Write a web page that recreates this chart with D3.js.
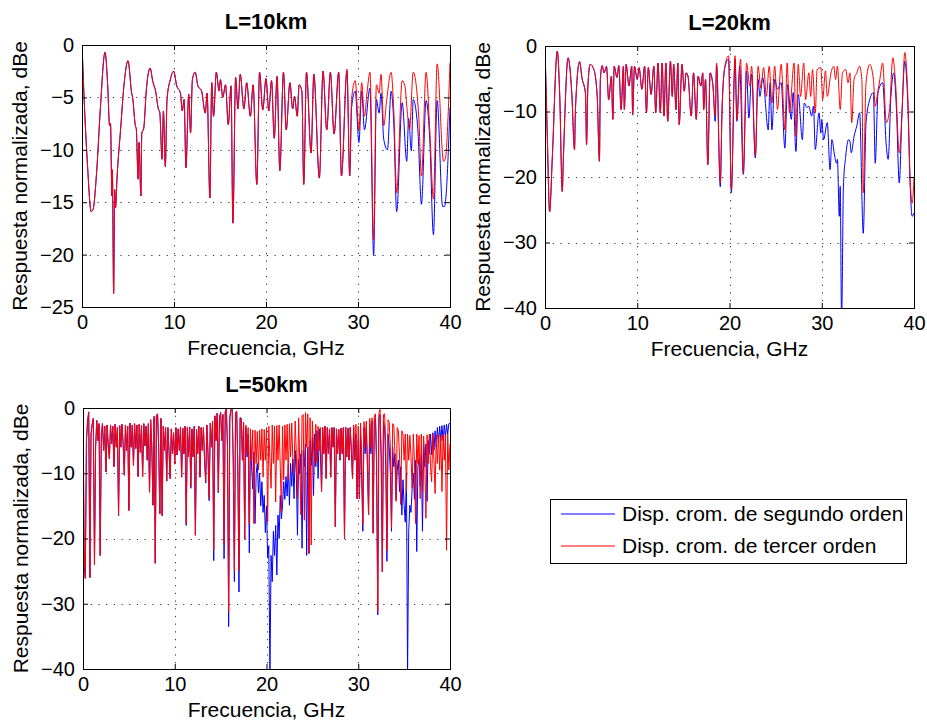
<!DOCTYPE html>
<html>
<head>
<meta charset="utf-8">
<script src="https://cdn.jsdelivr.net/npm/d3@7"></script>
<style>
  body { margin: 0; background: #fff; }
  svg text { font-family: "Liberation Sans", Arial, Helvetica, sans-serif; fill: #000; }
  .axis path { display: none; }
  .axis line { stroke: #000; }
  .grid line { stroke: #333; stroke-dasharray: 1.2, 6.5; }
</style>
</head>
<body>
<div id="chart"></div>
<script>
// ---- data ----
const titles = ['L=10km', 'L=20km', 'L=50km'];
const seriesNames = ['Disp. crom. de segundo orden', 'Disp. crom. de tercer orden'];
const freqTicks = [0, 10, 20, 30, 40];
const dbTicks10 = [0, -5, -10, -15, -20, -25];
const dbTicks20 = [0, -10, -20, -30, -40];

// L=10km: [GHz, dB] turning points; both orders coincide up to ~28 GHz
const l10Shared = [
  [0, 0], [0.3, -6.5], [0.6, -11.5], [1.0, -15.9], [1.2, -15.7], [1.6, -12], [2.0, -6], [2.5, -0.7],
  [2.8, -4], [3.0, -7.7], [3.1, -7.5], [3.25, -14.4], [3.3, -11.9], [3.44, -23.7], [3.55, -13.8],
  [3.65, -15.5], [3.8, -12.8], [4.2, -8], [4.6, -3.5], [5.0, -1.5], [5.4, -4.6], [5.5, -5],
  [5.8, -7.7], [5.9, -8], [6.1, -12.8], [6.2, -9.3], [6.4, -14.4], [6.5, -8.4], [6.7, -8],
  [7.0, -4.2], [7.4, -2.2], [7.7, -3.5], [8.0, -4.4], [8.3, -6.1], [8.45, -6.4], [8.7, -10.9],
  [8.85, -6.3], [9.06, -11.6], [9.24, -5.2], [9.6, -3.3], [9.96, -2.5], [10.3, -3.9], [10.7, -4.6],
  [10.9, -6.3], [11.1, -5.2], [11.3, -11.7], [11.6, -4.7], [11.8, -8.4], [12.0, -3.3], [12.3, -2.6],
  [12.6, -3.9], [13.0, -4.4], [13.4, -6.5], [13.6, -4.6], [13.9, -14.6], [14.1, -3.6], [14.3, -6.8],
  [14.6, -2.6], [14.9, -4.4], [15.05, -3.3], [15.3, -5.0], [15.6, -3.8], [15.9, -7.6], [16.2, -3.9],
  [16.4, -17.0], [16.7, -3.1], [16.95, -6.1], [17.2, -2.8], [17.6, -6.1], [17.9, -3.6], [18.3, -6.8],
  [18.6, -3.8], [19.0, -13.3], [19.3, -2.6], [19.65, -6.2], [20.0, -3.2], [20.3, -6.3], [20.6, -3.4],
  [20.9, -8.9], [21.2, -3.0], [21.5, -12.0], [21.9, -2.6], [22.2, -8.1], [22.6, -3.6], [22.9, -6.1],
  [23.1, -4.9], [23.4, -6.8], [23.6, -3.8], [23.9, -4.4], [24.1, -13.3], [24.4, -2.6], [24.9, -10.3],
  [25.2, -2.8], [25.8, -12.7], [26.2, -2.5], [26.6, -8.1], [27.0, -2.6], [27.4, -8.5], [27.9, -2.6],
  [28.2, -12.5]
];
const l10SegTail = [
  [28.8, -2.5], [29.1, -12.5], [29.3, -6], [29.7, -4.4], [30.1, -9.3], [30.4, -4.4], [30.7, -8.1],
  [31.3, -4.1], [31.7, -20.1], [32.0, -5.2], [32.3, -6.5], [32.5, -4.6], [32.8, -9.0], [33.2, -10.0],
  [33.6, -4.4], [33.9, -7.7], [34.2, -15.9], [34.8, -5.5], [35.3, -11.1], [35.5, -7], [35.8, -10.1],
  [36.0, -5.2], [36.5, -8], [36.9, -15.2], [37.4, -5.3], [37.8, -9], [38.2, -18.1], [38.6, -5.3],
  [39.2, -15.4], [39.4, -15.4], [40, -6.0]
];
const l10TerTail = [
  [28.8, -2.3], [29.1, -12.5], [29.3, -5.2], [29.7, -3.4], [30.1, -8.1], [30.4, -3.6], [30.7, -6.8],
  [31.0, -4.4], [31.3, -2.6], [31.7, -18.6], [32.0, -3.8], [32.3, -4.6], [32.5, -2.8], [32.8, -7.7],
  [33.1, -5.4], [33.6, -2.6], [33.9, -6.5], [34.2, -14.1], [34.8, -3.4], [35.1, -3.9], [35.3, -5.8],
  [35.6, -8.1], [36.0, -2.6], [36.6, -6.8], [36.9, -12.5], [37.4, -2.6], [37.8, -8.1], [38.2, -14.7],
  [38.6, -1.8], [39.3, -11.1], [39.5, -10.8], [40, -1.7]
];

// L=20km: [GHz, dB] turning points; both orders coincide up to ~18 GHz
const l20Shared = [
  [0, 0], [0.25, -13.8], [0.5, -25.3], [0.8, -16.8], [1.33, -0.8], [1.6, -7.7], [1.87, -22.2],
  [2.0, -16.8], [2.5, -1.8], [2.9, -7.1], [3.2, -15.8], [3.3, -9.7], [3.75, -2.4], [4.0, -4.8],
  [4.4, -7.4], [4.5, -15.1], [4.65, -6.1], [4.9, -2.8], [5.3, -3.6], [5.66, -7.7], [5.9, -17.6],
  [6.0, -5.1], [6.2, -3.0], [6.4, -4.1], [6.67, -3.1], [6.9, -8.2], [7.2, -4.6], [7.35, -11.2],
  [7.5, -3.1], [7.8, -4.8], [8.0, -3.0], [8.25, -9.7], [8.5, -3.1], [8.6, -9.7], [8.8, -2.8],
  [9.1, -6.1], [9.4, -3.1], [9.5, -10.5], [9.7, -3.1], [10.0, -5.1], [10.2, -3.3], [10.5, -6.6],
  [10.8, -3.1], [11.0, -10.2], [11.2, -3.3], [11.5, -7.4], [11.8, -3.1], [12.0, -10.2], [12.25, -2.6],
  [12.5, -10.2], [12.7, -2.6], [12.9, -10.7], [13.1, -2.6], [13.3, -11.5], [13.6, -2.3], [13.8, -7.7],
  [13.95, -2.8], [14.2, -9.7], [14.4, -2.6], [14.55, -12.0], [14.85, -2.8], [15.1, -6.9], [15.3, -4.1],
  [15.5, -4.6], [15.85, -10.7], [16.1, -4.1], [16.4, -11.2], [16.6, -4.6], [16.9, -6.1], [17.1, -4.1],
  [17.2, -9.7], [17.4, -5.1], [17.65, -18.1], [17.9, -4.1], [18.2, -6]
];
const l20SegTail = [
  [18.45, -11.5], [18.6, -3], [19.0, -21.5], [19.2, -9.5], [19.5, -3.3], [19.9, -2.0], [20.2, -22.4],
  [20.6, -2.0], [20.8, -11.5], [21.1, -3.1], [21.5, -19.6], [21.85, -3.8], [22.1, -11.0], [22.4, -4.3],
  [22.8, -17.1], [23.1, -5.1], [23.3, -7.7], [23.6, -4.8], [24.2, -12.8], [24.4, -5.6], [24.6, -12.8],
  [24.9, -5.1], [25.2, -6.6], [25.6, -5.6], [26.0, -15.6], [26.3, -5.9], [26.7, -11.2], [26.9, -7.1],
  [27.2, -16.1], [27.45, -7.4], [27.9, -14.3], [28.1, -8.7], [28.4, -9.4], [28.6, -9.2], [28.9, -10.7],
  [29.1, -9.2], [29.3, -15.8], [29.7, -10.2], [29.9, -13.3], [30.0, -11.2], [30.2, -14.3], [30.6, -11.7],
  [30.9, -18.9], [31.1, -14.3], [31.4, -16.8], [31.6, -17.9], [31.7, -17.3], [31.9, -26.0], [32.0, -21.4],
  [32.15, -42], [32.35, -21.4], [32.6, -16.8], [32.9, -14.3], [33.05, -14.5], [33.2, -16.3], [33.5, -13.8],
  [33.8, -12.2], [34.1, -10.2], [34.5, -28.6], [34.8, -11.7], [35.2, -8.2], [35.6, -7.1], [35.8, -17.9],
  [36.1, -7.1], [36.6, -5.6], [37.0, -15.3], [37.2, -17.3], [37.5, -7.7], [37.8, -4.1], [38.1, -9.7],
  [38.4, -20.9], [38.7, -10.2], [39.0, -2.3], [39.3, -7.7], [39.6, -21.9], [39.8, -26.0], [40, -25.5]
];
const l20TerTail = [
  [18.45, -10.7], [18.6, -2.6], [19.0, -20.9], [19.2, -9.2], [19.5, -3.1], [19.9, -1.5], [20.2, -21.9],
  [20.6, -1.5], [20.8, -11.2], [21.2, -2.0], [21.5, -19.4], [21.85, -2.6], [22.2, -6.1], [22.4, -3.1],
  [22.8, -16.8], [23.1, -3.1], [23.4, -6.4], [23.7, -3.3], [24.0, -7.7], [24.3, -3.1], [24.6, -8.7],
  [24.9, -3.1], [25.2, -9.7], [25.6, -2.8], [26.0, -12.8], [26.25, -2.6], [26.5, -10.2], [27.0, -2.6],
  [27.2, -13.8], [27.45, -2.8], [27.7, -7.7], [28.05, -2.6], [28.25, -8.2], [28.6, -4.1], [28.8, -7.7],
  [29.0, -3.6], [29.3, -10.2], [29.5, -3.6], [29.9, -3.3], [30.1, -8.2], [30.4, -3.8], [30.6, -7.7],
  [31.0, -4.1], [31.3, -3.1], [31.5, -5.1], [31.7, -3.1], [32.0, -9.7], [32.25, -4.1], [32.6, -3.6],
  [32.85, -5.6], [33.05, -4.1], [33.25, -11.7], [33.5, -5.1], [33.8, -4.1], [34.1, -3.1], [34.35, -5.1],
  [34.5, -22.4], [34.8, -5.6], [35.2, -2.8], [35.6, -5.1], [35.8, -9.2], [36.0, -7.7], [36.3, -5.1],
  [36.6, -2.6], [37.0, -11.7], [37.35, -9.7], [37.7, -1.8], [38.0, -5.6], [38.4, -16.3], [38.7, -10.2],
  [39.0, -1.0], [39.3, -6.6], [39.6, -20.9], [39.8, -24.0], [40, -20]
];

// L=50km: dB sampled every 0.125 GHz (one row per GHz)
const l50Step = 0.125;
const l50Seg = [
  0, -24, -26.1, -5, -2, -0.6, -26, -4,
  -2.5, -1.6, -24, -6, -1.9, -5, -2.4, -22.6,
  -4, -2.4, -6.5, -2.8, -9.8, -2.6, -5.8, -7.8,
  -2.6, -5.5, -2.8, -9, -2.5, -6, -3, -16.5,
  -2.7, -6, -2.5, -5.5, -10.3, -2.6, -6.5, -2.8,
  -15.7, -2.3, -6, -2.6, -8.8, -2.4, -6.2, -2.6,
  -10.5, -2.5, -6.8, -2.7, -10.5, -2.4, -5.8, -2.8,
  -8, -2.4, -12.9, -1.8, -6, -14.9, -1.3, -23.8,
  -1.2, -0.9, -6, -16.2, -1.6, -16.5, -2.8, -6.5,
  -3, -11.2, -3, -6.5, -10.8, -3.2, -7, -3.8,
  -8.6, -3, -7.2, -3.2, -6.5, -2.9, -10.6, -3.1,
  -7, -2.8, -18, -3, -7.5, -2.9, -12.3, -3.2,
  -7.5, -2.8, -19.5, -3.3, -7, -2.8, -10.6, -3,
  -6.5, -3, -8, -11.5, -2.6, -7, -14.2, -2.3,
  -6, -2, -23.4, -1.2, -5, -0.8, -13, -1.5,
  -0.7, -5, -1, -23.1, -0.6, -0.1, -6, -33.5,
  -1.5, -0.2, 0, -8, -26.6, -0.8, -0.5, -9,
  -28.2, -1.5, -1.6, -8, -2.2, -20.1, -3, -7.5,
  -4, -22.2, -5, -9, -12.4, -6.7, -17.7, -10,
  -8.5, -13, -10, -15, -11.3, -16, -13.4, -19.1,
  -15, -23, -21.1, -41, -22.6, -26.6, -18.9, -22.6,
  -18, -25.6, -16.4, -20, -13.4, -17, -14.9, -11.3,
  -14, -10.5, -13.5, -8.8, -14.9, -8.5, -12, -7.8,
  -13.9, -6.5, -10, -19.5, -7.8, -10, -7, -21.5,
  -6.5, -9, -5.5, -22.6, -6, -22.3, -5, -8.8,
  -4.5, -13.4, -4, -9, -3.5, -10.8, -3.2, -7,
  -12.8, -3, -7, -2.8, -10.8, -3, -7, -3.2,
  -10.6, -3, -6, -3, -18.2, -3.2, -7, -3.3,
  -8, -3.1, -7, -3, -20, -2.9, -7.5, -3.1,
  -8, -3, -6.5, -10.8, -3, -8, -4, -13.9,
  -5, -13.9, -4, -10.8, -18.9, -3, -7, -3,
  -9, -16.4, -2.5, -7, -2, -19.2, -2, -1.5,
  -9, -31.7, -1.5, -1, -8, -25.1, -2, -3,
  -9, -23.5, -4, -6, -10, -18.9, -6, -9,
  -7, -14, -9.5, -8, -12.8, -9, -16.4, -11,
  -15, -17.5, -10, -41, -18.9, -14.9, -16, -12.3,
  -10, -14, -8, -22, -9, -7.8, -12, -7,
  -18.9, -6, -9, -5.5, -14.3, -5, -7, -4,
  -7.2, -3.8, -6.5, -3.5, -6, -3, -5.5, -2.8,
  -5, -2.7, -5, -2.6, -4.5, -2.5, -4, -2.4,
  -2.4
];
const l50Ter = [
  0, -21.8, -26.1, -5, -2, -0.6, -26, -4,
  -2.5, -1.6, -24, -6, -1.9, -5, -2.4, -22.6,
  -4, -2.4, -6.5, -2.8, -9.8, -2.6, -5.8, -7.8,
  -2.6, -5.5, -2.8, -9, -2.5, -6, -3, -16.5,
  -2.7, -6, -2.5, -5.5, -10.3, -2.6, -6.5, -2.8,
  -15.7, -2.3, -6, -2.6, -8.8, -2.4, -6.2, -2.6,
  -10.5, -2.5, -6.8, -2.7, -10.5, -2.4, -5.8, -2.8,
  -8, -2.4, -12.9, -1.8, -6, -14.9, -1.3, -23.8,
  -1.2, -0.9, -6, -16.2, -1.6, -16.5, -2.8, -6.5,
  -3, -11.2, -3, -6.5, -10.8, -3.2, -7, -3.8,
  -8.6, -3, -7.2, -3.2, -6.5, -2.9, -10.6, -3.1,
  -7, -2.8, -17.7, -3, -7.5, -2.9, -12.1, -3.2,
  -7.5, -2.8, -19.5, -3.3, -7, -2.8, -10.6, -3,
  -6.5, -3, -8, -11.3, -2.6, -7, -13.9, -2.3,
  -6, -2, -21.8, -1.2, -5, -0.8, -12.9, -1.5,
  -0.7, -5, -1, -20.8, -0.6, -0.1, -6, -31.2,
  -1.5, -0.2, 0, -8, -25.1, -0.8, -0.5, -9,
  -24.9, -1.5, -1.6, -8, -2.2, -20.1, -2.6, -7,
  -3, -17.8, -3.2, -8, -3.4, -17.7, -3.4, -8.5,
  -3.6, -9.5, -3.4, -8, -3.2, -10.6, -3.3, -8,
  -3, -17.5, -2.8, -8, -12.3, -2.6, -8.5, -2.8,
  -14.4, -2.7, -8, -2.6, -9, -16, -2.8, -11,
  -2.6, -8, -2.5, -11, -2.4, -7.5, -2.3, -8,
  -10, -2, -7, -13.9, -1.5, -8, -16.4, -1.2,
  -1, -17.2, -0.7, -6, -0.9, -22.3, -1.5, -21,
  -2, -6, -8.8, -2.5, -8.3, -2.8, -6.5, -3,
  -12.8, -3, -7, -2.8, -10.8, -3, -7, -3.2,
  -10.6, -3, -6, -3, -18.2, -3.2, -7, -3.3,
  -8, -3.1, -7, -3, -20, -2.9, -7.5, -3.1,
  -8, -3, -6.5, -10.8, -2.6, -8, -2.5, -13.9,
  -2.8, -13.9, -2.3, -7, -17.9, -2.1, -6, -2,
  -8, -16.4, -1.6, -6, -1.5, -19.2, -1.2, -0.9,
  -8, -31.2, -0.8, -0.2, -7, -25.1, -1, -0.9,
  -6, -21.8, -1.8, -2.2, -6, -18.4, -2.4, -2.6,
  -7, -14.3, -3, -3.5, -7.5, -14.8, -3.5, -4,
  -8, -4, -12.8, -4, -8, -4.2, -7.5, -12.3,
  -4, -8, -17.7, -4, -8.5, -4.2, -13.9, -4,
  -12.8, -4.3, -8, -16.9, -4.1, -8.5, -4, -9,
  -11.3, -4, -8, -13.1, -4.2, -8.5, -4, -9.5,
  -4.3, -12.8, -4, -8, -4.2, -21.8, -4, -9.5,
  -5.5
];

const toPairs = (vals) => vals.map((v, i) => [i * l50Step, v]);

const panels = [
  { title: titles[0], left: 82, top: 45, width: 368, height: 262, yDomain: [-25, 0], yTicks: dbTicks10,
    seg: l10Shared.concat(l10SegTail), ter: l10Shared.concat(l10TerTail), curve: d3.curveMonotoneX },
  { title: titles[1], left: 545, top: 46, width: 369, height: 262, yDomain: [-40, 0], yTicks: dbTicks20,
    seg: l20Shared.concat(l20SegTail), ter: l20Shared.concat(l20TerTail), curve: d3.curveMonotoneX },
  { title: titles[2], left: 83, top: 408, width: 367, height: 261, yDomain: [-40, 0], yTicks: dbTicks20,
    seg: toPairs(l50Seg), ter: toPairs(l50Ter), curve: d3.curveLinear }
];

const colors = ['#0000ff', '#ff0000'];
const tickSize = 20;
const labelSize = 21;
const titleSize = 22;

const svg = d3.select('#chart').append('svg')
  .attr('width', 927)
  .attr('height', 720)
  .style('background', '#fff');

panels.forEach((p, idx) => {
  const x = d3.scaleLinear().domain([0, 40]).range([0, p.width]);
  const y = d3.scaleLinear().domain(p.yDomain).range([p.height, 0]);

  const g = svg.append('g').attr('transform', `translate(${p.left},${p.top})`);

  g.append('clipPath').attr('id', `clip${idx}`)
    .append('rect').attr('width', p.width + 1).attr('height', p.height + 1);

  // dotted grid
  const grid = g.append('g').attr('class', 'grid');
  grid.selectAll('line.v').data(freqTicks).join('line')
    .attr('class', 'v')
    .attr('x1', (d) => Math.round(x(d)) + 0.5).attr('x2', (d) => Math.round(x(d)) + 0.5)
    .attr('y1', 0).attr('y2', p.height);
  grid.selectAll('line.h').data(p.yTicks).join('line')
    .attr('class', 'h')
    .attr('y1', (d) => Math.round(y(d)) + 0.5).attr('y2', (d) => Math.round(y(d)) + 0.5)
    .attr('x1', 0).attr('x2', p.width);

  // series: second order (blue) underneath, third order (red) on top
  const line = d3.line().x((d) => x(d[0])).y((d) => y(d[1])).curve(p.curve);
  [p.seg, p.ter].forEach((s, i) => {
    g.append('path')
      .datum(s)
      .attr('clip-path', `url(#clip${idx})`)
      .attr('fill', 'none')
      .attr('stroke', colors[i])
      .attr('stroke-width', 1)
      .attr('stroke-linejoin', 'round')
      .attr('d', line);
  });

  // axes, ticks pointing inward on all four sides
  const fmt = d3.format('d');
  g.append('g').attr('class', 'axis')
    .attr('transform', `translate(0,${p.height})`)
    .call(d3.axisBottom(x).tickValues(freqTicks).tickSize(-5).tickPadding(8).tickFormat(fmt))
    .selectAll('text').style('font-size', `${tickSize}px`);
  g.append('g').attr('class', 'axis')
    .call(d3.axisTop(x).tickValues(freqTicks).tickSize(-5).tickFormat(''));
  g.append('g').attr('class', 'axis')
    .call(d3.axisLeft(y).tickValues(p.yTicks).tickSize(-5).tickPadding(8).tickFormat(fmt))
    .selectAll('text').style('font-size', `${tickSize}px`);
  g.append('g').attr('class', 'axis')
    .attr('transform', `translate(${p.width},0)`)
    .call(d3.axisRight(y).tickValues(p.yTicks).tickSize(-5).tickFormat(''));

  // box
  g.append('rect')
    .attr('x', 0.5).attr('y', 0.5)
    .attr('width', p.width).attr('height', p.height)
    .attr('fill', 'none').attr('stroke', '#000').attr('stroke-width', 1);

  // labels
  g.append('text')
    .attr('x', p.width / 2).attr('y', -16)
    .attr('text-anchor', 'middle')
    .style('font-size', `${titleSize}px`).style('font-weight', 'bold')
    .text(p.title);
  g.append('text')
    .attr('x', p.width / 2).attr('y', p.height + 48)
    .attr('text-anchor', 'middle')
    .style('font-size', `${labelSize}px`)
    .text('Frecuencia, GHz');
  g.append('text')
    .attr('transform', `translate(-55,${p.height / 2}) rotate(-90)`)
    .attr('text-anchor', 'middle')
    .style('font-size', `${labelSize}px`)
    .text('Respuesta normalizada, dBe');
});

// legend
const legend = svg.append('g').attr('transform', 'translate(550,499)');
legend.append('rect')
  .attr('x', 0.5).attr('y', 0.5).attr('width', 356).attr('height', 64)
  .attr('fill', '#fff').attr('stroke', '#000');
seriesNames.forEach((name, i) => {
  const ly = 15 + i * 32;
  legend.append('line')
    .attr('x1', 11).attr('x2', 65).attr('y1', ly).attr('y2', ly)
    .attr('stroke', colors[i]).attr('stroke-width', 1);
  legend.append('text')
    .attr('x', 72).attr('y', ly + 7)
    .style('font-size', `${labelSize}px`)
    .text(name);
});
</script>
</body>
</html>
